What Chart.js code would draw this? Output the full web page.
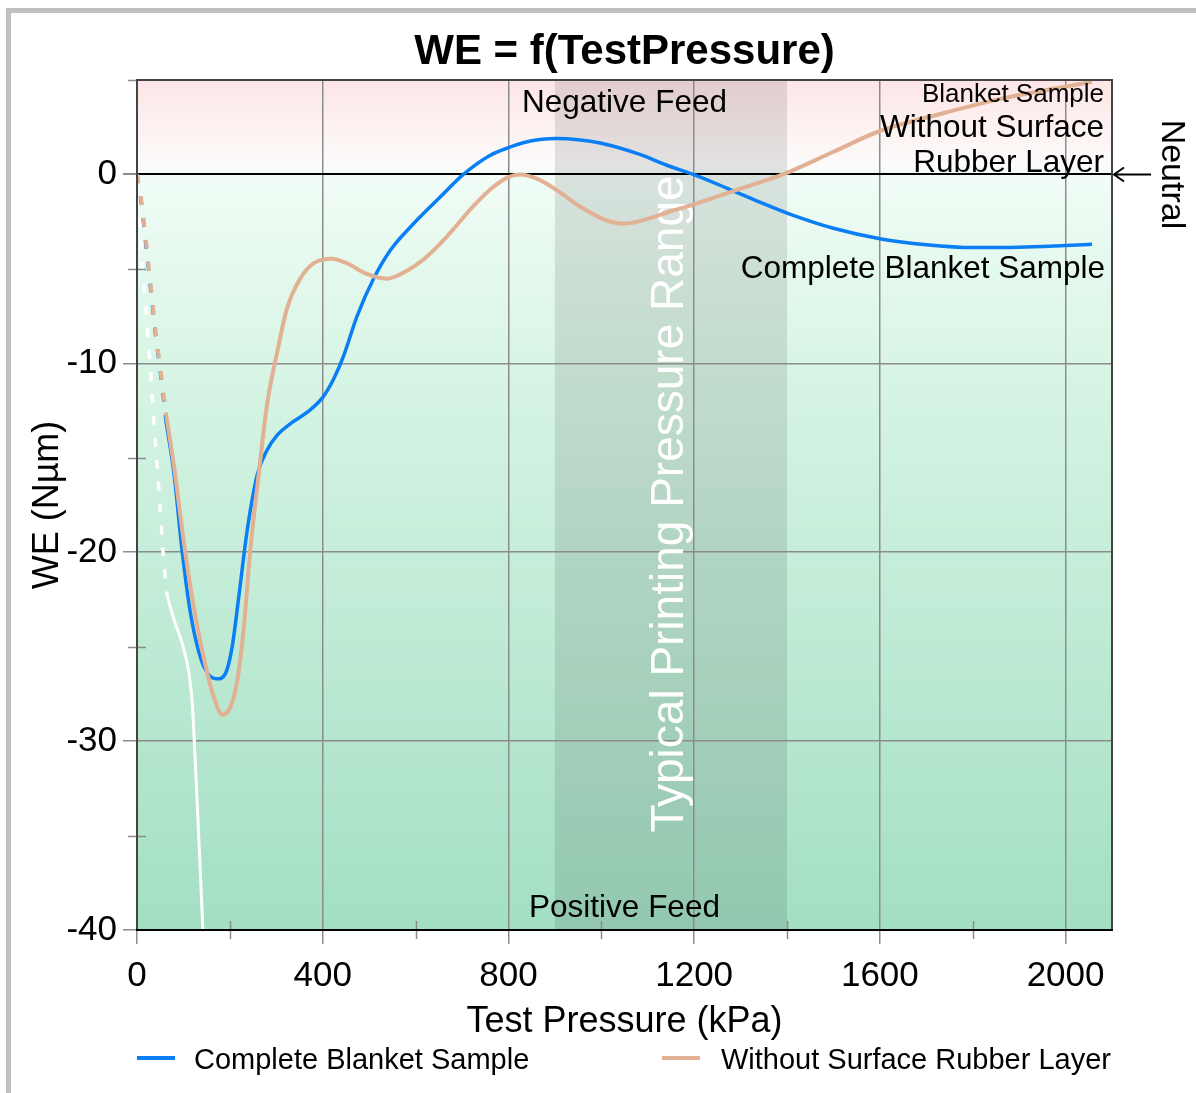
<!DOCTYPE html>
<html>
<head>
<meta charset="utf-8">
<script src="https://cdn.jsdelivr.net/npm/chart.js@4.4.1/dist/chart.umd.min.js"></script>
<style>
html,body{margin:0;padding:0;background:#fff;}
#wrap{position:relative;width:1196px;height:1093px;overflow:hidden;}
#frame{position:absolute;left:6px;top:8px;width:1300px;height:1200px;border-left:5px solid #c0c0c0;border-top:5px solid #c0c0c0;}
canvas{position:absolute;left:0;top:0;}
</style>
</head>
<body>
<div id="wrap"><div id="frame"></div><canvas id="c" width="1196" height="1093"></canvas></div>
<script>
// ---- data ----
const blankP  = [62, 80, 97, 115, 137, 155, 173, 191, 205, 219, 237, 259, 280, 302, 330, 366, 400, 424, 445, 474, 510, 546, 596, 653, 703, 760, 800, 832, 868, 905, 950, 1000, 1083, 1140, 1198, 1270, 1340, 1406, 1500, 1600, 1700, 1800, 1900, 2000, 2057];
const blankWE = [-13.0, -15.9, -19.9, -23.2, -25.6, -26.5, -26.7, -26.4, -25.0, -22.4, -18.9, -15.9, -14.6, -13.8, -13.2, -12.6, -11.8, -10.8, -9.6, -7.5, -5.5, -4.0, -2.6, -1.2, 0, 1.0, 1.42, 1.68, 1.85, 1.9, 1.84, 1.65, 1.06, 0.5, 0, -0.72, -1.45, -2.1, -2.85, -3.4, -3.72, -3.87, -3.85, -3.76, -3.7];

const rubberP  = [62, 80, 101, 123, 144, 162, 184, 201, 216, 230, 244, 262, 280, 302, 323, 352, 381, 420, 452, 495, 538, 574, 617, 667, 725, 768, 800, 825, 868, 911, 954, 1008, 1051, 1100, 1150, 1198, 1300, 1391, 1500, 1600, 1730, 1860, 1990, 2057];
const rubberWE = [-12.6, -15.5, -19.5, -23.0, -25.6, -27.4, -28.6, -28.2, -26.8, -24.0, -19.9, -15.9, -12.2, -9.4, -7.1, -5.5, -4.7, -4.46, -4.7, -5.27, -5.52, -5.2, -4.5, -3.3, -1.66, -0.65, -0.14, 0, -0.3, -0.95, -1.7, -2.4, -2.6, -2.35, -1.95, -1.6, -0.75, 0, 1.2, 2.3, 3.2, 4.0, 4.6, 4.9];

const blankLeadP   = [0, 8, 19, 29, 40, 52, 62];
const blankLeadWE  = [0, -1.3, -3.7, -6.0, -8.5, -10.8, -13.0];
const rubberLeadP  = [0, 9, 20, 30, 41, 53, 62];
const rubberLeadWE = [0, -1.3, -3.7, -6.0, -8.5, -10.8, -12.6];

const whiteLeadP  = [0, 6, 11, 17, 23, 30, 36, 43, 50, 56, 62, 65];
const whiteLeadWE = [0, -2.5, -4.9, -6.4, -8.4, -10.6, -13.0, -15.3, -17.7, -20.0, -21.6, -22.3];
const whiteTailP  = [65, 80, 97, 112, 119, 123, 131, 142];
const whiteTailWE = [-22.3, -23.6, -24.8, -26.4, -28.0, -29.8, -34.0, -40];

const bandRange = [900, 1400];          // typical printing pressure range (kPa)
const xTickStep = 200, xLabelStep = 400;
const yTickStep = 5,   yLabelStep = 10;

const seriesNames = ['Complete Blanket Sample', 'Without Surface Rubber Layer'];
const BLUE = '#0a7ff5', TAN = '#e2b092';

const pts = (xs, ys) => xs.map((x, i) => ({x: x, y: ys[i]}));
const FONT = '"Liberation Sans", Arial, sans-serif';
Chart.defaults.font.family = FONT;
Chart.defaults.color = '#000';

const bgPlugin = {
  id: 'bg',
  beforeDraw(chart) {
    const {ctx, chartArea: a, scales: {x, y}} = chart;
    const H = a.bottom - a.top;
    const f = v => (y.getPixelForValue(v) - a.top) / H;
    const g = ctx.createLinearGradient(0, a.top, 0, a.bottom);
    g.addColorStop(0, '#fde5e6');
    g.addColorStop(f(0.4), '#fcfcfb');
    g.addColorStop(f(0), '#f1fcf6');
    g.addColorStop(f(-10), '#d8f5e5');
    g.addColorStop(1, '#a3dfc3');
    ctx.save();
    ctx.fillStyle = g;
    ctx.fillRect(a.left, a.top, a.right - a.left, H);
    const bx0 = x.getPixelForValue(bandRange[0]), bx1 = x.getPixelForValue(bandRange[1]);
    ctx.fillStyle = 'rgba(0,0,0,0.1)';
    ctx.fillRect(bx0, a.top, bx1 - bx0, H);
    ctx.restore();
  },
  beforeDatasetsDraw(chart) {
    const {ctx, chartArea: a, scales: {x, y}} = chart;
    const cx = x.getPixelForValue((bandRange[0] + bandRange[1]) / 2);
    ctx.save();
    ctx.translate(cx + 12, (a.top + a.bottom) / 2 - 1);
    ctx.rotate(-Math.PI / 2);
    ctx.font = '46px ' + FONT;
    ctx.fillStyle = '#ffffff';
    ctx.textAlign = 'center';
    ctx.textBaseline = 'alphabetic';
    ctx.fillText('Typical Printing Pressure Range', 0, 0);
    ctx.restore();
  }
};

const overlayPlugin = {
  id: 'overlay',
  afterDatasetsDraw(chart) {
    const {ctx, chartArea: a, scales: {x, y}} = chart;
    ctx.save();
    // minor ticks
    ctx.strokeStyle = '#8c8c8c';
    ctx.lineWidth = 1.5;
    ctx.beginPath();
    for (let v = xTickStep; v < x.max; v += xTickStep) {
      if (v % xLabelStep === 0) continue;
      const px = Math.round(x.getPixelForValue(v)) + 0.5;
      ctx.moveTo(px, a.bottom - 9); ctx.lineTo(px, a.bottom + 9);
    }
    for (let v = y.min; v <= y.max; v += yTickStep) {
      if (v % yLabelStep === 0) continue;
      const py = Math.round(y.getPixelForValue(v)) + 0.5;
      ctx.moveTo(a.left - 9, py); ctx.lineTo(a.left + (v === y.max ? 0 : 9), py);
    }
    ctx.stroke();
    // plot frame
    ctx.lineWidth = 2;
    ctx.strokeStyle = '#444';
    ctx.beginPath();
    ctx.moveTo(a.left, a.bottom); ctx.lineTo(a.left, a.top); ctx.lineTo(a.right, a.top); ctx.lineTo(a.right, a.bottom);
    ctx.stroke();
    ctx.strokeStyle = '#000';
    ctx.beginPath();
    ctx.moveTo(a.left - 1, a.bottom); ctx.lineTo(a.right + 1, a.bottom);
    ctx.stroke();

    // annotations
    const midX = (a.left + a.right) / 2;
    ctx.fillStyle = '#000';
    ctx.textBaseline = 'alphabetic';
    ctx.textAlign = 'center';
    ctx.font = '31.5px ' + FONT;
    ctx.fillText('Negative Feed', midX, a.top + 32);
    ctx.fillText('Positive Feed', midX, a.bottom - 13);
    ctx.textAlign = 'right';
    const rx = a.right - 8;
    ctx.font = '26px ' + FONT;
    ctx.fillText('Blanket Sample', rx, a.top + 22);
    ctx.font = '31.5px ' + FONT;
    ctx.fillText('Without Surface', rx, a.top + 57);
    ctx.fillText('Rubber Layer', rx, a.top + 92);
    ctx.fillText('Complete Blanket Sample', rx + 1, y.getPixelForValue(-5.5));

    // neutral arrow
    const y0 = y.getPixelForValue(0);
    ctx.strokeStyle = '#000';
    ctx.lineWidth = 2;
    ctx.beginPath();
    ctx.moveTo(a.right + 2, y0); ctx.lineTo(a.right + 39, y0);
    ctx.moveTo(a.right + 12, y0 - 7); ctx.lineTo(a.right + 2, y0); ctx.lineTo(a.right + 12, y0 + 7);
    ctx.stroke();
    ctx.save();
    ctx.translate(a.right + 50, y0);
    ctx.rotate(Math.PI / 2);
    ctx.font = '34px ' + FONT;
    ctx.textAlign = 'center';
    ctx.fillText('Neutral', 0, 0);
    ctx.restore();
    ctx.restore();
  },
  afterDraw(chart) {
    const {ctx, chartArea: a} = chart;
    const ds = chart.data.datasets;
    ctx.save();
    ctx.font = '29px ' + FONT;
    ctx.textBaseline = 'alphabetic';
    ctx.textAlign = 'left';
    const ly = 1058;
    ctx.fillStyle = ds[0].borderColor;
    ctx.fillRect(a.left, ly - 2, 38, 4);
    ctx.fillStyle = '#000';
    ctx.fillText(ds[0].label, a.left + 57, ly + 11);
    const w2 = ctx.measureText(ds[1].label).width;
    const tx2 = a.right - 1 - w2;
    ctx.fillStyle = ds[1].borderColor;
    ctx.fillRect(tx2 - 59, ly - 2, 38, 4);
    ctx.fillStyle = '#000';
    ctx.fillText(ds[1].label, tx2, ly + 11);
    ctx.restore();
  }
};

new Chart(document.getElementById('c'), {
  type: 'line',
  data: {
    datasets: [
      {label: seriesNames[0], data: pts(blankP, blankWE), borderColor: BLUE, borderWidth: 3.5, pointRadius: 0, cubicInterpolationMode: 'monotone', order: 2},
      {label: seriesNames[1], data: pts(rubberP, rubberWE), borderColor: TAN, borderWidth: 4, pointRadius: 0, cubicInterpolationMode: 'monotone', order: 1},
      {label: 'lead-blue', data: pts(blankLeadP, blankLeadWE), borderColor: BLUE, borderWidth: 3.5, borderDash: [9, 13], pointRadius: 0, tension: 0.3, order: 2},
      {label: 'lead-tan', data: pts(rubberLeadP, rubberLeadWE), borderColor: TAN, borderWidth: 4, borderDash: [9, 13], pointRadius: 0, tension: 0.3, order: 1},
      {label: 'lead-white', data: pts(whiteLeadP, whiteLeadWE), borderColor: '#ffffff', borderWidth: 3.5, borderDash: [9, 13], pointRadius: 0, tension: 0.3, order: 3},
      {label: 'tail-white', data: pts(whiteTailP, whiteTailWE), borderColor: '#ffffff', borderWidth: 3, pointRadius: 0, cubicInterpolationMode: 'monotone', order: 3}
    ]
  },
  options: {
    responsive: false,
    animation: false,
    devicePixelRatio: 1,
    layout: {padding: {left: 0, right: 84, top: 0, bottom: 49}},
    plugins: {
      legend: {display: false},
      tooltip: {enabled: false},
      title: {
        display: true, fullSize: false,
        text: 'WE = f(TestPressure)',
        color: '#000',
        font: {size: 42, weight: 'bold', family: FONT},
        padding: {top: 27, bottom: 2.6}
      }
    },
    scales: {
      x: {
        type: 'linear', min: 0, max: 2100,
        border: {display: false},
        ticks: {
          stepSize: xTickStep, includeBounds: false, autoSkip: false, maxRotation: 0,
          color: '#000', font: {size: 35}, padding: 11,
          callback: v => (v % xLabelStep === 0 ? String(v) : '')
        },
        grid: {
          lineWidth: 1.5, tickLength: 14,
          color: c => (c.tick && c.tick.value % xLabelStep === 0 && c.tick.value > 0 ? '#8c8c8c' : 'rgba(0,0,0,0)'),
          tickColor: c => (c.tick && c.tick.value % xLabelStep === 0 ? '#8c8c8c' : 'rgba(0,0,0,0)')
        },
        title: {display: true, text: 'Test Pressure (kPa)', color: '#000', font: {size: 36}, padding: {top: 0, bottom: 0}},
        afterFit: s => { s.height = 114; }
      },
      y: {
        type: 'linear', min: -40, max: 5,
        border: {display: false},
        ticks: {
          stepSize: yTickStep, autoSkip: false,
          color: '#000', font: {size: 35}, padding: 6,
          callback: v => (v % yLabelStep === 0 ? String(v) : '')
        },
        grid: {
          tickLength: 14,
          lineWidth: c => (c.tick && c.tick.value === 0 ? 2 : 1.5),
          color: c => {
            if (!c.tick) return 'rgba(0,0,0,0)';
            const v = c.tick.value;
            if (v === 0) return '#000';
            if (v % yLabelStep === 0 && v > -40) return '#8c8c8c';
            return 'rgba(0,0,0,0)';
          },
          tickColor: c => (c.tick && c.tick.value % yLabelStep === 0 ? '#8c8c8c' : 'rgba(0,0,0,0)')
        },
        title: {display: true, text: 'WE (Nµm)', color: '#000', font: {size: 36}, padding: {top: 26, bottom: 0}},
        afterFit: s => { s.width = 137; }
      }
    }
  },
  plugins: [bgPlugin, overlayPlugin]
});
</script>
</body>
</html>
